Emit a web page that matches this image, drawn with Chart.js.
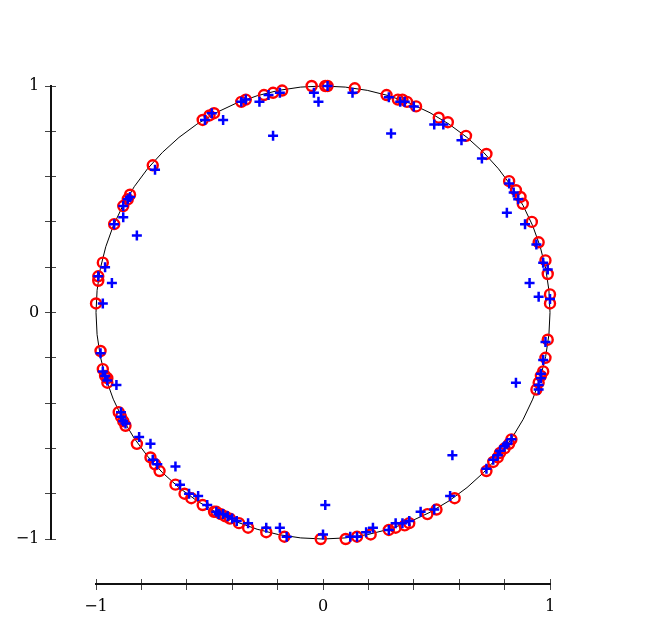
<!DOCTYPE html>
<html>
<head>
<meta charset="utf-8">
<script src="https://cdn.jsdelivr.net/npm/chart.js@4"></script>
<style>
body{margin:0;background:#fff}
#wrap{width:664px;height:635px}
</style>
</head>
<body>
<div id="wrap"><canvas id="chart"></canvas></div>
<script>
// points on the unit circle (red circles)
const circleX = [-0.05,0.01,0.02,0.14,0.28,0.33,0.35,0.37,0.41,0.51,0.55,0.63,0.72,0.82,0.85,0.87,0.88,0.92,0.95,0.98,
  0.99,1.00,1.00,0.99,0.98,0.97,0.96,0.95,0.94,0.83,0.82,0.80,0.78,0.77,0.75,0.72,0.58,0.50,0.46,0.38,
  0.36,0.32,0.29,0.21,0.15,0.10,-0.01,-0.17,-0.25,-0.33,-0.37,-0.41,-0.43,-0.45,-0.47,-0.48,-0.53,-0.58,-0.61,-0.65,
  -0.72,-0.74,-0.76,-0.82,-0.87,-0.88,-0.89,-0.90,-0.95,-0.95,-0.96,-0.97,-0.98,-1.00,-0.99,-0.99,-0.97,-0.92,-0.88,-0.86,
  -0.85,-0.75,-0.53,-0.50,-0.48,-0.36,-0.34,-0.26,-0.22,-0.18];
const circleY = [1.00,1.00,1.00,0.99,0.96,0.94,0.94,0.93,0.91,0.86,0.84,0.78,0.70,0.58,0.54,0.51,0.48,0.40,0.31,0.23,
  0.17,0.08,0.04,-0.12,-0.20,-0.26,-0.28,-0.31,-0.34,-0.56,-0.58,-0.60,-0.62,-0.64,-0.66,-0.70,-0.82,-0.87,-0.89,-0.93,
  -0.94,-0.95,-0.96,-0.98,-0.99,-1.00,-1.00,-0.99,-0.97,-0.95,-0.93,-0.91,-0.90,-0.89,-0.88,-0.88,-0.85,-0.82,-0.80,-0.76,
  -0.70,-0.67,-0.64,-0.58,-0.50,-0.48,-0.46,-0.44,-0.31,-0.29,-0.28,-0.25,-0.17,0.04,0.14,0.16,0.22,0.39,0.47,0.50,
  0.52,0.65,0.85,0.87,0.88,0.93,0.94,0.96,0.97,0.98];

// perturbed points (blue crosses)
const noisyX = [0.02,-0.04,-0.02,0.13,0.29,0.34,0.36,0.40,0.30,0.49,0.53,0.61,0.70,0.82,0.84,0.86,0.81,0.89,0.94,0.97,
  0.99,0.91,0.95,1.00,0.98,0.97,0.96,0.96,0.95,0.95,0.85,0.83,0.81,0.80,0.78,0.77,0.75,0.72,0.57,0.56,
  0.49,0.43,0.38,0.35,0.32,0.29,0.22,0.19,0.15,0.12,0.01,0.00,-0.16,-0.19,-0.25,-0.33,-0.38,-0.40,-0.42,-0.44,
  -0.46,-0.47,-0.51,-0.55,-0.59,-0.63,-0.65,-0.73,-0.75,-0.76,-0.81,-0.87,-0.88,-0.89,-0.89,-0.91,-0.95,-0.96,-0.97,-0.98,
  -0.97,-0.93,-0.99,-0.96,-0.92,-0.88,-0.82,-0.88,-0.86,-0.85,-0.74,-0.52,-0.49,-0.44,-0.36,-0.34,-0.28,-0.24,-0.22,-0.19];
const noisyY = [1.00,0.97,0.93,0.97,0.95,0.93,0.93,0.91,0.79,0.83,0.83,0.76,0.68,0.57,0.53,0.50,0.44,0.39,0.30,0.22,
  0.19,0.13,0.07,0.06,-0.13,-0.21,-0.27,-0.29,-0.32,-0.34,-0.31,-0.56,-0.58,-0.59,-0.61,-0.63,-0.65,-0.69,-0.63,-0.81,
  -0.87,-0.88,-0.92,-0.93,-0.93,-0.96,-0.95,-0.97,-0.99,-0.99,-0.85,-0.98,-0.99,-0.95,-0.95,-0.93,-0.92,-0.91,-0.90,-0.89,
  -0.89,-0.88,-0.85,-0.81,-0.80,-0.76,-0.68,-0.67,-0.65,-0.58,-0.55,-0.49,-0.48,-0.46,-0.44,-0.32,-0.30,-0.28,-0.26,-0.18,
  0.04,0.13,0.16,0.20,0.39,0.42,0.34,0.47,0.50,0.51,0.63,0.85,0.88,0.85,0.93,0.94,0.93,0.96,0.78,0.97];

const tickValues = [-1, 0, 1];
const tickLabels = ['\u22121', '0', '1'];

function pts(xs, ys){
  return xs.map((v,i)=>({x:v, y:ys[i]}));
}

function tickText(v){
  let i = tickValues.findIndex(t => Math.abs(t - v) < 1e-6);
  return i < 0 ? '' : tickLabels[i];
}

// the unit circle itself, drawn through the scales
const unitCircle = {
  id: 'unitCircle',
  beforeDatasetsDraw(chart){
    let ctx = chart.ctx, x = chart.scales.x, y = chart.scales.y;
    let cx = x.getPixelForValue(0), cy = y.getPixelForValue(0);
    let rx = x.getPixelForValue(1) - cx, ry = cy - y.getPixelForValue(1);
    ctx.save();
    ctx.strokeStyle = '#000';
    ctx.lineWidth = 1;
    ctx.beginPath();
    ctx.ellipse(cx, cy, rx, ry, 0, 0, Math.PI*2);
    ctx.stroke();
    ctx.restore();
  }
};

const labelFont = {family:'DejaVu Serif', size:16};

new Chart(document.getElementById('chart'), {
  type: 'scatter',
  data: {
    datasets: [{
      label: 'noisy',
      data: pts(noisyX, noisyY),
      pointStyle: 'cross',
      pointRadius: 5,
      borderWidth: 2.5,
      borderColor: '#0000ff',
      backgroundColor: '#0000ff',
      clip: false,
      xAxisID: 'x', yAxisID: 'y'
    },{
      label: 'circle',
      data: pts(circleX, circleY),
      pointStyle: 'circle',
      pointRadius: 5,
      borderWidth: 2.4,
      borderColor: '#ff0000',
      backgroundColor: 'rgba(0,0,0,0)',
      clip: false,
      xAxisID: 'x', yAxisID: 'y'
    }]
  },
  options: {
    responsive: true,
    maintainAspectRatio: false,
    animation: false,
    layout: {padding: {left:96, top:86, right:114, bottom:96}},
    plugins: {legend:{display:false}, tooltip:{enabled:false}},
    scales: {
      x: {
        type:'linear', min:-1, max:1, position:{y:-1.2},
        border:{color:'#111', width:2},
        grid:{drawOnChartArea:false, tickLength:5, color:'#444', lineWidth:1},
        ticks:{stepSize:0.2, autoSkip:false, maxRotation:0, color:'#000', font:labelFont, padding:8, callback:tickText}
      },
      xIn: {
        type:'linear', axis:'x', min:-1, max:1, position:{y:-1.2},
        border:{display:false},
        grid:{drawOnChartArea:false, tickLength:-5, color:'#444', lineWidth:1},
        ticks:{stepSize:0.2, autoSkip:false, display:false}
      },
      y: {
        type:'linear', min:-1, max:1, position:{x:-1.2},
        border:{color:'#111', width:2},
        grid:{drawOnChartArea:false, tickLength:5, color:'#444', lineWidth:1},
        ticks:{stepSize:0.2, autoSkip:false, display:false}
      },
      yIn: {
        type:'linear', axis:'y', min:-1, max:1, position:{x:-1.2},
        border:{display:false},
        grid:{drawOnChartArea:false, tickLength:-5, color:'#444', lineWidth:1},
        ticks:{stepSize:0.2, autoSkip:false, display:false}
      },
      yLab: {
        type:'linear', axis:'y', min:-1, max:1, position:{x:-1.25},
        border:{display:false},
        grid:{drawOnChartArea:false, drawTicks:false},
        ticks:{stepSize:0.2, autoSkip:false, color:'#000', font:labelFont, callback:tickText}
      }
    }
  },
  plugins: [unitCircle]
});
</script>
</body>
</html>
